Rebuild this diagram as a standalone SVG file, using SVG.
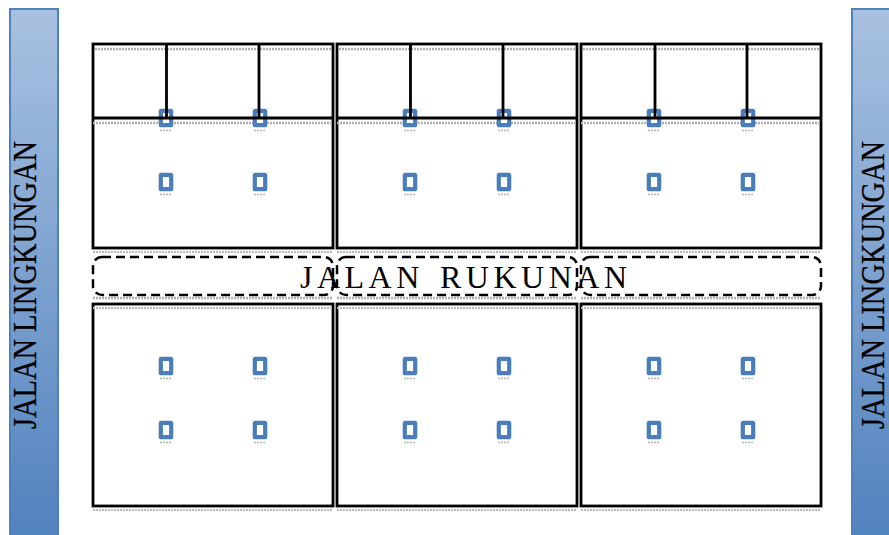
<svg xmlns="http://www.w3.org/2000/svg" width="889" height="535" viewBox="0 0 889 535">
<style>
.plot{fill:#fff;stroke:#000;stroke-width:2.8}
.div{fill:none;stroke:#000;stroke-width:2.8}
.dot{fill:none;stroke:#b0b0b0;stroke-width:2.5;stroke-dasharray:2 1}
.dots{fill:none;stroke:#b8b8b8;stroke-width:2;stroke-dasharray:2 1}
.road{fill:#fff;stroke:#000;stroke-width:2.5;stroke-dasharray:9 5}
.bar{fill:url(#g);stroke:#4f81bd;stroke-width:2}
.pil{fill:#fff;stroke:#4a7ebb;stroke-width:4.2}
.pg{fill:none;stroke:#b5b5b5;stroke-width:1.5;stroke-dasharray:2 1}
.side{font-family:"Liberation Serif",serif;font-size:33.500px;fill:#000;stroke:#000;stroke-width:.3}
.mid{font-family:"Liberation Serif",serif;font-size:32px;letter-spacing:4.500px;fill:#000}
</style>
<defs>
<linearGradient id="g" x1="0" y1="0" x2="0" y2="1"><stop offset="0" stop-color="#a9c1e0"/><stop offset="1" stop-color="#4f81bd"/></linearGradient>
<g id="p"><rect class="pil" x="-5.200" y="-7.200" width="10.400" height="14.400" rx=".5"/><path class="pg" d="M-6 12.500H6"/></g>
</defs>
<g id="bar-left"><rect class="bar" x="10" y="9" width="48" height="536"/><text class="side" transform="translate(36 429) rotate(-90)" textLength="288" lengthAdjust="spacingAndGlyphs">JALAN LINGKUNGAN</text></g>
<g id="bar-right"><rect class="bar" x="852" y="9" width="48" height="536"/><text class="side" transform="translate(884 429) rotate(-90)" textLength="288" lengthAdjust="spacingAndGlyphs">JALAN LINGKUNGAN</text></g>
<g id="plot-top-1"><rect class="plot" x="93" y="44" width="240" height="204"/><path class="dot" d="M95 49H331M93 123H333"/><path class="dots" d="M93 252H333"/></g>
<g id="plot-top-2"><rect class="plot" x="337" y="44" width="240" height="204"/><path class="dot" d="M339 49H575M337 123H577"/><path class="dots" d="M337 252H577"/></g>
<g id="plot-top-3"><rect class="plot" x="581" y="44" width="240" height="204"/><path class="dot" d="M583 49H819M581 123H821"/><path class="dots" d="M581 252H821"/></g>
<g id="road-1"><rect class="road" x="93" y="257" width="240" height="38" rx="9"/><path class="dot" d="M93 298H333"/></g>
<g id="road-2"><rect class="road" x="337" y="257" width="240" height="38" rx="9"/><path class="dot" d="M337 298H577"/></g>
<g id="road-3"><rect class="road" x="581" y="257" width="240" height="38" rx="9"/><path class="dot" d="M581 298H821"/></g>
<g id="plot-bottom-1"><rect class="plot" x="93" y="304" width="240" height="202"/><path class="dots" d="M93 308H333M93 510H333"/></g>
<g id="plot-bottom-2"><rect class="plot" x="337" y="304" width="240" height="202"/><path class="dots" d="M337 308H577M337 510H577"/></g>
<g id="plot-bottom-3"><rect class="plot" x="581" y="304" width="240" height="202"/><path class="dots" d="M581 308H821M581 510H821"/></g>
<g id="pillars">
<use href="#p" x="166" y="118"/><use href="#p" x="260" y="118"/><use href="#p" x="410" y="118"/><use href="#p" x="504" y="118"/><use href="#p" x="654" y="118"/><use href="#p" x="748" y="118"/>
<use href="#p" x="166" y="182"/><use href="#p" x="260" y="182"/><use href="#p" x="410" y="182"/><use href="#p" x="504" y="182"/><use href="#p" x="654" y="182"/><use href="#p" x="748" y="182"/>
<use href="#p" x="166" y="366"/><use href="#p" x="260" y="366"/><use href="#p" x="410" y="366"/><use href="#p" x="504" y="366"/><use href="#p" x="654" y="366"/><use href="#p" x="748" y="366"/>
<use href="#p" x="166" y="430"/><use href="#p" x="260" y="430"/><use href="#p" x="410" y="430"/><use href="#p" x="504" y="430"/><use href="#p" x="654" y="430"/><use href="#p" x="748" y="430"/>
</g>
<g id="connectors">
<path class="div" d="M93 118H333M337 118H577M581 118H821M166.500 44V118M259 44V118M410.500 44V118M503 44V118M655 44V118M747 44V118"/>
</g>
<text id="road-label" class="mid" x="300" y="288">JALAN<tspan x="440">RUKUNAN</tspan></text>
</svg>
